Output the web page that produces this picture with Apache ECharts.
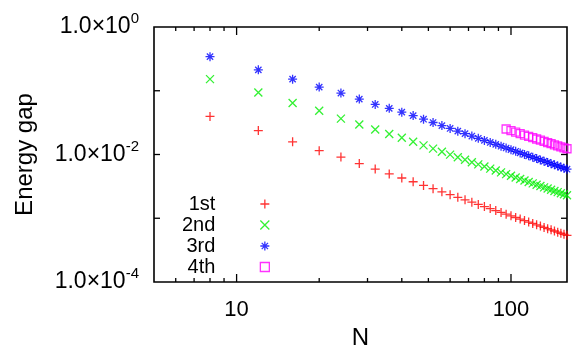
<!DOCTYPE html>
<html>
<head>
<meta charset="utf-8">
<script src="https://cdn.jsdelivr.net/npm/echarts@6/dist/echarts.min.js"></script>
<style>html,body{margin:0;padding:0;background:#fff}#c{width:581px;height:363px}</style>
</head>
<body>
<div id="c"></div>
<script>
// ---- data ----
const N123 = [8,12,16,20,24,28,32,36,40,44,48,52,56,60,64,68,72,76,80,84,88,92,96,100,104,108,112,116,120,124,128,132,136,140,144,148,152,156,160];
const gap1st = [0.0396,0.0237,0.0158,0.0115,0.0091,0.0072,0.0059,0.00495,0.00428,0.003735,0.003278,0.002907,0.002601,0.002345,0.002129,0.001944,0.001784,0.001645,0.001523,0.001416,0.00132,0.001235,0.001159,0.00109,0.001028,0.000971,0.00092,0.000872,0.000829,0.000789,0.000753,0.000719,0.000687,0.000658,0.000631,0.000605,0.000582,0.000559,0.000539];
const gap2nd = [0.152,0.094,0.0644,0.0487,0.0365,0.0295,0.0246,0.021,0.0183,0.01586,0.01392,0.01235,0.01105,0.00996,0.00904,0.00826,0.00758,0.00699,0.00647,0.00601,0.00561,0.00525,0.00492,0.00463,0.00437,0.00413,0.00391,0.00371,0.00352,0.00335,0.0032,0.00305,0.00292,0.0028,0.00268,0.00257,0.00247,0.00238,0.00229];
const gap3rd = [0.343,0.213,0.152,0.114,0.092,0.074,0.061,0.053,0.0462,0.04077,0.03578,0.03174,0.02839,0.02561,0.02324,0.02122,0.01948,0.01796,0.01663,0.01546,0.01442,0.01349,0.01265,0.0119,0.01122,0.0106,0.01004,0.00952,0.00905,0.00862,0.00822,0.00785,0.0075,0.00718,0.00689,0.00661,0.00635,0.00611,0.00588];
const N4 = [96,100,104,108,112,116,120,124,128,132,136,140,144,148,152,156,160];
const gap4th = [0.0251,0.0237,0.0224,0.0213,0.0202,0.0193,0.0184,0.0175,0.0168,0.0161,0.0154,0.0148,0.0142,0.0137,0.0132,0.0127,0.0123];
const seriesNames = ['1st','2nd','3rd','4th'];
const xTickMinor = [6,7,8,9,20,30,40,50,60,70,80,90];
const xTickMajor = [10,100];
const yTicks = [0.1,0.01,0.001];
const xLabels = [10,100];
const X_MIN = 5, X_MAX = 160, Y_MIN = 1e-4, Y_MAX = 1;

const FONT = "'Liberation Sans', Arial, Helvetica, sans-serif";
const SYM = {
  plus: 'path://M0,5L10,5M5,0L5,10',
  cross: 'path://M0,0L10,10M10,0L0,10',
  star: 'path://M0,5L10,5M5,0L5,10M1.5,1.5L8.5,8.5M8.5,1.5L1.5,8.5',
  square: 'path://M0,0L10,0L10,10L0,10Z'
};
function zip(a,b){return a.map((v,i)=>[v,b[i]]);}
function mk(name, xs, ys, sym, col, size){
  return {name, type:'scatter', data: zip(xs,ys), symbol: sym, symbolSize: size,
    itemStyle:{color:'rgba(0,0,0,0)', borderColor: col, borderWidth: 1.3}, z: 3};
}
const tickData = [];
xTickMinor.forEach(v=>tickData.push([v, Y_MIN, 0]));
xTickMajor.forEach(v=>tickData.push([v, Y_MIN, 1]));
yTicks.forEach(v=>tickData.push([X_MIN, v, 2]));

const chart = echarts.init(document.getElementById('c'), null, {renderer:'canvas'});
chart.setOption({
  animation:false,
  backgroundColor:'#fff',
  textStyle:{fontFamily:FONT},
  grid:{left:154, right:14, top:27, bottom:81, show:true, borderColor:'#000', borderWidth:1.6, backgroundColor:'transparent'},
  legend:{
    data: seriesNames, orient:'vertical', align:'right', right:306, top:189,
    itemWidth:9, itemHeight:9, itemGap:1,
    itemStyle:{borderWidth:1.3},
    textStyle:{fontFamily:FONT, fontSize:20, color:'#000', lineHeight:20, padding:[0,40,0,0]}
  },
  xAxis:{
    type:'log', logBase:10, min:X_MIN, max:X_MAX,
    name:'N', nameLocation:'middle', nameGap:43,
    nameTextStyle:{fontFamily:FONT, fontSize:24, color:'#000'},
    axisLine:{show:false}, axisTick:{show:false}, splitLine:{show:false},
    axisLabel:{fontFamily:FONT, fontSize:22, color:'#000', margin:17,
      formatter:(v)=>{ for(const l of xLabels){ if(Math.abs(v-l)<1e-6*l) return String(l);} return ''; }}
  },
  yAxis:{
    type:'log', logBase:10, min:Y_MIN, max:Y_MAX, splitNumber:4,
    name:'Energy gap', nameLocation:'middle', nameGap:117,
    nameTextStyle:{fontFamily:FONT, fontSize:24, color:'#000'},
    axisLine:{show:false}, axisTick:{show:false}, splitLine:{show:false},
    axisLabel:{fontFamily:FONT, fontSize:23, color:'#000', margin:15,
      formatter:(v)=>{ const e=Math.round(Math.log10(v)); if(e%2!==0) return ''; return '{m|1.0×10}{s|'+e+'}'; },
      rich:{ m:{fontFamily:FONT, fontSize:23, color:'#000', lineHeight:31}, s:{fontFamily:FONT, fontSize:15, color:'#000', verticalAlign:'top', lineHeight:15} }
    }
  },
  series:[
    mk('1st', N123, gap1st, SYM.plus, '#ff0000', 9),
    mk('2nd', N123, gap2nd, SYM.cross, '#00ee00', 8),
    mk('3rd', N123, gap3rd, SYM.star, '#0000ff', 9),
    mk('4th', N4, gap4th, SYM.square, '#ff00ff', 8),
    {
      name:'ticks', type:'custom', silent:true, z:2, data: tickData,
      renderItem:(params, api)=>{
        const kind = api.value(2);
        const sty = {stroke:'#000', lineWidth:1.3};
        if(kind===2){
          const y = api.value(1);
          const a = api.coord([X_MIN, y]), b = api.coord([X_MAX, y]);
          return {type:'group', children:[
            {type:'line', shape:{x1:a[0], y1:a[1], x2:a[0]+6, y2:a[1]}, style:sty},
            {type:'line', shape:{x1:b[0], y1:b[1], x2:b[0]-6, y2:b[1]}, style:sty}
          ]};
        }
        const x = api.value(0);
        const len = kind===1 ? 8 : 4;
        const a = api.coord([x, Y_MIN]), b = api.coord([x, Y_MAX]);
        return {type:'group', children:[
          {type:'line', shape:{x1:a[0], y1:a[1], x2:a[0], y2:a[1]-len}, style:sty},
          {type:'line', shape:{x1:b[0], y1:b[1], x2:b[0], y2:b[1]+len}, style:sty}
        ]};
      }
    }
  ]
});
</script>
</body>
</html>
